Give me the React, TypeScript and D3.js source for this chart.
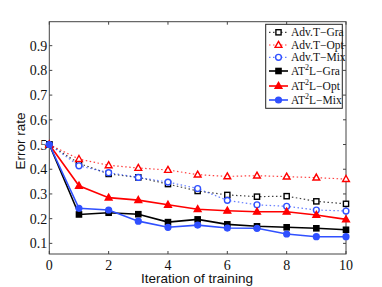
import React from "react";
import * as d3 from "d3";

const iterations = [0, 1, 2, 3, 4, 5, 6, 7, 8, 9, 10];
const advGra = [0.5, 0.424, 0.381, 0.367, 0.34, 0.312, 0.296, 0.289, 0.291, 0.27, 0.26];
const advOpt = [0.5, 0.441, 0.416, 0.405, 0.397, 0.378, 0.371, 0.374, 0.37, 0.366, 0.36];
const advMix = [0.5, 0.414, 0.386, 0.367, 0.348, 0.322, 0.274, 0.256, 0.25, 0.235, 0.231];
const atlGra = [0.5, 0.217, 0.224, 0.218, 0.186, 0.197, 0.177, 0.169, 0.165, 0.161, 0.155];
const atlOpt = [0.5, 0.333, 0.285, 0.275, 0.256, 0.238, 0.232, 0.228, 0.228, 0.215, 0.197];
const atlMix = [0.5, 0.242, 0.235, 0.19, 0.165, 0.174, 0.162, 0.161, 0.138, 0.127, 0.127];
const xTicks = [0, 2, 4, 6, 8, 10];
const yTicks = [0.1, 0.2, 0.3, 0.4, 0.5, 0.6, 0.7, 0.8, 0.9];

type Series = {
  name: string;
  sup?: boolean;
  values: number[];
  color: string;
  dotted: boolean;
  marker: "square" | "triangle" | "circle";
};

const series: Series[] = [
  { name: "Adv.T\u2212Gra", values: advGra, color: "#000", dotted: true, marker: "square" },
  { name: "Adv.T\u2212Opt", values: advOpt, color: "#ff0000", dotted: true, marker: "triangle" },
  { name: "Adv.T\u2212Mix", values: advMix, color: "#3050ff", dotted: true, marker: "circle" },
  { name: "L\u2212Gra", sup: true, values: atlGra, color: "#000", dotted: false, marker: "square" },
  { name: "L\u2212Opt", sup: true, values: atlOpt, color: "#ff0000", dotted: false, marker: "triangle" },
  { name: "L\u2212Mix", sup: true, values: atlMix, color: "#3050ff", dotted: false, marker: "circle" },
];

function Marker({ s, x, y }: { s: Series; x: number; y: number }) {
  const fill = s.dotted ? "#fff" : s.color;
  if (s.marker === "square")
    return <rect x={x - 2.6} y={y - 2.6} width={5.2} height={5.2} fill={fill} stroke={s.color} strokeWidth={1.4} />;
  if (s.marker === "triangle")
    return (
      <path
        d={`M${x},${y - 3.6}L${x + 3.4},${y + 2.4}L${x - 3.4},${y + 2.4}Z`}
        fill={fill}
        stroke={s.color}
        strokeWidth={1.4}
      />
    );
  return <circle cx={x} cy={y} r={2.9} fill={fill} stroke={s.color} strokeWidth={1.4} />;
}

export default function App() {
  const left = 49.3;
  const right = 346;
  const top = 21.7;
  const bottom = 254;
  const x = d3.scaleLinear().domain([0, 10]).range([left, right]);
  const y = d3.scaleLinear().domain([0.057, 0.997]).range([bottom, top]);
  const line = d3
    .line<number>()
    .x((_, i) => x(iterations[i]))
    .y((d) => y(d));

  const serif = "'Liberation Serif', 'Times New Roman', serif";
  const sans = "'Liberation Sans', Arial, sans-serif";
  const axis = "#444";

  const legendRows = [32.3, 45, 57.3, 71, 86, 100];

  return (
    <svg width={382} height={287} style={{ position: "absolute", left: 0, top: 0, background: "#fff" }}>
      {/* frame */}
      <rect x={left} y={top} width={right - left} height={bottom - top} fill="none" stroke={axis} strokeWidth={1} />
      {xTicks.map((t) => (
        <g key={"x" + t}>
          <line x1={x(t)} x2={x(t)} y1={bottom} y2={bottom - 3} stroke={axis} />
          <line x1={x(t)} x2={x(t)} y1={top} y2={top + 3} stroke={axis} />
          <text x={x(t)} y={bottom + 15.5} textAnchor="middle" fontFamily={serif} fontSize={14} fill="#111">
            {t}
          </text>
        </g>
      ))}
      {yTicks.map((t) => (
        <g key={"y" + t}>
          <line x1={left} x2={left + 3} y1={y(t)} y2={y(t)} stroke={axis} />
          <line x1={right} x2={right - 3} y1={y(t)} y2={y(t)} stroke={axis} />
          <text x={left - 2} y={y(t) + 5} textAnchor="end" fontFamily={serif} fontSize={14} fill="#111">
            {t.toFixed(1)}
          </text>
        </g>
      ))}
      <text x={197} y={283} textAnchor="middle" fontFamily={sans} fontSize={13.5} fill="#111">
        Iteration of training
      </text>
      <text
        transform={`translate(24.5,141) rotate(-90)`}
        textAnchor="middle"
        fontFamily={sans}
        fontSize={13.5}
        fill="#111"
      >
        Error rate
      </text>

      {series.map((s) => (
        <g key={s.name + s.color}>
          <path
            d={line(s.values) || ""}
            fill="none"
            stroke={s.color}
            strokeOpacity={s.dotted ? 0.75 : 1}
            strokeWidth={s.dotted ? 1.2 : 1.6}
            strokeDasharray={s.dotted ? "1.5,2.5" : undefined}
          />
          {s.values.map((v, i) => (
            <Marker key={i} s={s} x={x(iterations[i])} y={y(v)} />
          ))}
        </g>
      ))}

      {/* legend */}
      <rect x={265.7} y={24.3} width={76.6} height={84} fill="#fff" stroke="#222" strokeWidth={1} />
      {series.map((s, i) => {
        const ry = legendRows[i];
        return (
          <g key={"l" + i}>
            <line
              x1={269}
              x2={288}
              y1={ry}
              y2={ry}
              stroke={s.color}
              strokeOpacity={s.dotted ? 0.75 : 1}
              strokeWidth={s.dotted ? 1.2 : 1.6}
              strokeDasharray={s.dotted ? "1.5,2.5" : undefined}
            />
            <Marker s={s} x={278.5} y={ry} />
            {s.sup ? (
              <text x={291} y={ry + 4} fontFamily={serif} fontSize={11.5} fill="#111">
                AT
                <tspan fontSize={8} dy={-5}>
                  2
                </tspan>
                <tspan dy={5}>{s.name}</tspan>
              </text>
            ) : (
              <text x={291} y={ry + 4} fontFamily={serif} fontSize={11.5} fill="#111">
                {s.name}
              </text>
            )}
          </g>
        );
      })}
    </svg>
  );
}
